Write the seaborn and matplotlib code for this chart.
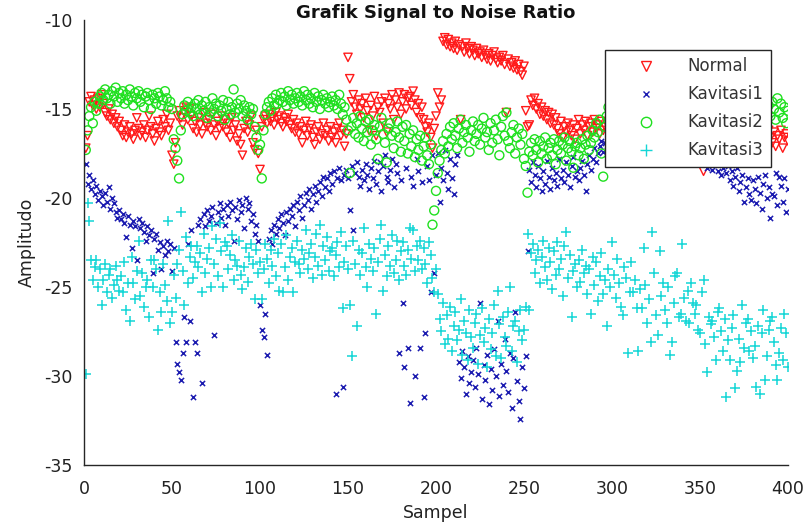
import numpy as np
import pandas as pd
import matplotlib
matplotlib.use("Agg")
import matplotlib.pyplot as plt
from matplotlib.lines import Line2D
import seaborn as sns

# Amplitude (dB) of each recorded sample, samples 1..400
normal = [
    -17.2, -16.5, -14.6, -14.3, -14.8, -14.5, -15.0, -14.4, -14.9, -14.2, -14.7, -15.2, -15.4, -15.0, -15.6, -15.3, -15.8, -15.5, -16.0, -15.7,
    -16.2, -16.5, -15.9, -16.6, -16.3, -16.0, -16.4, -16.7, -16.2, -15.5, -16.1, -16.5, -16.3, -15.9, -16.6, -16.2, -15.4, -16.0, -16.4, -16.8,
    -16.1, -15.7, -16.3, -16.5, -15.6, -16.0, -15.3, -16.2, -15.8, -17.6, -18.1, -16.9, -15.4, -15.1, -15.5, -15.9, -15.2, -14.9, -15.6, -15.0,
    -15.4, -16.1, -15.7, -16.3, -15.5, -15.9, -16.4, -15.2, -15.8, -16.0, -15.6, -16.2, -15.3, -15.9, -16.5, -15.7, -16.1, -15.4, -16.0, -15.6,
    -16.3, -15.8, -16.6, -15.5, -16.2, -15.9, -16.8, -16.4, -17.0, -17.6, -16.1, -15.7, -16.3, -15.9, -15.4, -16.9, -17.3, -16.2, -17.5, -18.4,
    -16.0, -15.6, -15.4, -15.8, -15.3, -15.7, -15.5, -15.9, -15.2, -15.6, -15.4, -15.8, -16.0, -15.5, -15.7, -15.3, -15.9, -16.1, -15.6, -16.3,
    -15.8, -16.4, -16.0, -16.9, -16.2, -15.7, -16.5, -16.1, -15.9, -16.6, -17.0, -16.3, -16.0, -16.7, -16.4, -15.8, -16.5, -16.2, -16.8, -16.0,
    -16.6, -16.3, -16.9, -16.1, -15.8, -16.5, -16.2, -17.1, -16.4, -12.1, -13.3, -14.6, -14.2, -14.9, -15.3, -14.5, -15.0, -14.7, -15.5, -14.4,
    -15.1, -16.2, -14.8, -15.4, -14.3, -16.5, -14.9, -15.2, -14.6, -15.8, -14.4, -16.3, -14.7, -15.0, -14.2, -15.6, -14.5, -14.9, -14.1, -15.3,
    -14.6, -14.2, -15.0, -14.4, -14.3, -14.8, -14.0, -14.5, -15.2, -14.7, -15.5, -14.9, -15.6, -16.0, -16.3, -15.8, -16.6, -17.2, -16.1, -15.4,
    -14.1, -14.9, -14.5, -11.2, -11.0, -11.4, -11.1, -11.5, -11.3, -11.6, -11.2, -11.7, -11.4, -15.6, -11.5, -11.8, -11.3, -11.6, -11.9, -11.5,
    -11.7, -12.0, -11.6, -11.9, -11.8, -12.1, -11.7, -12.0, -12.2, -11.9, -12.3, -12.0, -11.8, -12.2, -12.4, -12.1, -12.3, -12.0, -12.5, -15.2,
    -12.2, -12.6, -12.4, -12.7, -12.3, -12.8, -12.5, -12.9, -13.1, -12.6, -15.1, -16.0, -15.9, -14.5, -14.8, -14.4, -15.0, -14.7, -15.3, -14.9,
    -15.4, -15.1, -15.6, -15.2, -15.8, -15.3, -15.9, -15.5, -16.1, -16.4, -15.7, -16.6, -16.0, -16.3, -15.8, -16.2, -16.5, -15.9, -16.7, -16.1,
    -15.6, -16.4, -15.9, -16.2, -15.7, -16.5, -16.0, -15.8, -16.3, -15.6, -16.1, -15.9, -16.4, -15.7, -16.2, -16.0, -15.8, -16.3, -15.5, -16.1,
    -15.6, -15.2, -15.9, -15.4, -15.0, -15.7, -15.3, -16.0, -15.5, -14.9, -15.8, -16.2, -15.4, -15.1, -15.6, -16.3, -15.2, -15.5, -15.9, -15.3,
    -15.7, -15.1, -15.8, -15.4, -16.1, -15.6, -15.2, -15.9, -15.5, -16.0, -15.3, -15.8, -16.2, -15.4, -15.7, -15.0, -15.6, -16.1, -15.5, -15.9,
    -17.5, -15.8, -16.2, -15.6, -15.3, -16.0, -15.7, -16.3, -15.4, -16.1, -15.9, -18.5, -15.6, -16.2, -15.8, -16.4, -15.5, -16.0, -16.3, -15.7,
    -16.1, -15.8, -16.4, -15.9, -16.2, -16.0, -16.5, -15.7, -16.3, -16.1, -16.4, -16.0, -16.6, -16.9, -16.3, -16.7, -16.2, -16.8, -16.5, -16.4,
    -16.9, -16.3, -16.7, -16.1, -16.6, -17.0, -16.4, -16.8, -16.2, -16.6, -16.9, -16.3, -17.1, -16.5, -16.7, -16.2, -17.2, -16.6, -16.4, -16.8,
]

kavitasi1 = [
    -18.1, -19.2, -18.7, -19.5, -19.0, -19.8, -19.3, -20.1, -19.6, -19.9, -20.4, -19.7, -20.2, -19.4, -20.6, -20.0, -20.3, -20.8, -21.1, -20.7,
    -21.2, -20.9, -21.4, -22.2, -21.0, -21.5, -22.8, -21.3, -21.6, -23.5, -21.2, -21.7, -21.4, -21.9, -22.4, -21.6, -22.1, -21.8, -24.2, -22.3,
    -22.0, -22.9, -22.5, -24.0, -22.7, -23.2, -22.4, -23.0, -22.6, -24.1, -22.8, -28.1, -29.3, -29.8, -30.2, -28.7, -26.7, -28.1, -22.6, -26.9,
    -21.8, -31.2, -28.1, -28.7, -21.5, -21.2, -30.4, -20.9, -21.6, -20.7, -21.3, -21.0, -20.5, -27.7, -21.4, -20.8, -20.3, -21.1, -20.6, -21.5,
    -20.4, -21.0, -20.2, -20.7, -22.4, -20.5, -21.2, -20.1, -20.8, -20.4, -21.7, -20.0, -20.6, -20.3, -21.3, -20.9, -22.0, -21.5, -22.4, -26.0,
    -27.4, -27.8, -26.5, -28.8, -22.3, -21.8, -22.6, -21.5, -22.0, -21.2, -21.7, -20.9, -21.4, -22.1, -20.8, -21.3, -20.6, -21.0, -20.4, -21.6,
    -20.2, -20.7, -19.9, -21.1, -20.4, -19.7, -20.1, -19.5, -20.6, -19.8, -19.3, -20.2, -19.6, -19.1, -19.9, -18.8, -19.4, -18.9, -19.6, -18.6,
    -19.2, -18.5, -31.0, -18.9, -18.3, -19.0, -30.6, -18.7, -18.4, -18.9, -20.7, -18.2, -21.8, -18.6, -18.0, -18.8, -19.3, -18.4, -19.0, -18.1,
    -18.7, -19.5, -18.3, -18.9, -17.9, -19.2, -18.5, -18.0, -19.6, -18.2, -17.6, -18.8, -19.1, -18.4, -17.8, -19.4, -18.1, -18.6, -28.7, -19.0,
    -25.9, -29.5, -18.3, -28.4, -31.5, -18.8, -19.3, -30.0, -17.8, -18.5, -28.4, -19.1, -31.2, -27.6, -18.2, -19.0, -25.3, -17.6, -24.2, -18.7,
    -17.5, -20.2, -18.3, -19.0, -17.3, -18.6, -19.5, -17.8, -18.9, -19.8, -18.1, -17.6, -29.2, -30.1, -28.6, -29.5, -31.0, -28.9, -30.4, -29.8,
    -29.1, -30.6, -28.4, -29.9, -25.9, -31.3, -29.4, -30.2, -28.8, -31.6, -29.6, -30.8, -28.5, -30.0, -26.9, -31.1, -29.3, -30.5, -27.9, -29.7,
    -30.9, -28.7, -31.8, -29.0, -26.4, -30.3, -31.4, -32.4, -29.5, -30.7, -28.9, -23.0, -18.4, -19.1, -18.0, -18.7, -19.4, -18.2, -18.9, -19.6,
    -18.5, -19.2, -17.9, -18.8, -19.5, -18.3, -19.0, -18.6, -19.3, -17.8, -18.9, -18.4, -19.1, -18.0, -18.7, -19.4, -18.2, -17.7, -18.8, -18.5,
    -19.0, -18.3, -17.9, -18.7, -19.6, -18.1, -17.6, -18.4, -17.8, -17.2, -18.0, -17.5, -17.1, -16.8, -17.4, -16.9, -17.3, -16.7, -17.0, -16.6,
    -17.2, -16.8, -17.4, -16.9, -17.1, -16.6, -17.5, -17.0, -16.8, -17.3, -16.7, -17.6, -16.9, -17.2, -16.5, -17.0, -17.4, -16.8, -17.1, -16.6,
    -17.3, -16.9, -17.0, -17.5, -16.7, -17.2, -16.8, -17.4, -16.6, -17.1, -16.9, -17.3, -16.5, -17.0, -17.6, -16.8, -17.2, -16.7, -17.4, -16.9,
    -17.1, -16.8, -17.3, -16.6, -17.0, -16.9, -17.5, -16.7, -17.2, -17.8, -17.4, -18.0, -17.6, -18.3, -17.9, -17.5, -18.4, -18.1, -17.7, -18.5,
    -18.0, -18.7, -18.3, -17.9, -18.6, -18.2, -19.0, -18.5, -19.3, -18.8, -18.3, -19.6, -19.1, -18.7, -20.2, -19.4, -18.9, -19.8, -20.1, -19.0,
    -19.5, -20.3, -18.8, -19.7, -20.6, -19.2, -18.7, -20.0, -19.4, -21.1, -19.8, -19.9, -18.6, -20.4, -18.8, -19.3, -20.2, -18.9, -20.8, -19.5,
]

kavitasi2 = [
    -17.3, -16.2, -15.4, -14.9, -15.8, -14.6, -15.1, -14.7, -14.3, -14.1, -14.5, -13.9, -14.4, -14.2, -14.7, -14.0, -14.3, -13.8, -14.6, -14.1,
    -14.4, -14.0, -14.7, -14.2, -14.5, -13.9, -14.3, -14.8, -14.1, -14.4, -14.0, -14.6, -14.2, -14.9, -14.3, -14.1, -14.5, -15.0, -14.2, -14.4,
    -14.7, -14.1, -14.3, -14.8, -14.5, -14.0, -14.4, -14.9, -14.6, -15.0, -16.7, -17.2, -17.9, -18.9, -16.2, -15.3, -14.8, -15.1, -14.6, -15.2,
    -14.9, -15.4, -14.7, -15.0, -14.5, -15.3, -14.8, -15.1, -14.6, -15.5, -14.9, -15.2, -14.4, -15.0, -14.7, -15.4, -14.8, -15.1, -14.5, -15.6,
    -15.0, -14.6, -15.3, -14.9, -13.9, -15.2, -14.7, -15.0, -14.5, -15.4, -14.8, -15.1, -15.6, -14.9, -15.3, -15.0, -16.0, -16.6, -17.3, -17.0,
    -18.9, -16.2, -15.3, -14.9, -14.6, -15.1, -14.4, -14.8, -14.2, -14.7, -14.5, -14.1, -14.6, -14.3, -14.8, -14.0, -14.5, -14.2, -14.7, -14.4,
    -14.1, -14.6, -14.3, -14.8, -14.0, -14.5, -14.2, -14.7, -14.4, -14.9, -14.1, -14.6, -14.3, -15.0, -14.5, -14.2, -14.7, -14.4, -14.9, -14.6,
    -14.3, -14.8, -14.5, -15.0, -14.2, -14.7, -15.3, -14.9, -15.6, -16.2, -18.6, -16.0, -15.5, -16.4, -15.8, -16.6, -15.4, -16.1, -16.8, -15.7,
    -16.3, -15.6, -17.0, -16.2, -15.9, -16.7, -17.8, -16.0, -15.5, -16.4, -16.9, -18.0, -16.1, -15.8, -16.5, -17.2, -16.3, -15.7, -16.6, -17.4,
    -16.0, -16.8, -15.9, -17.5, -16.4, -17.1, -16.2, -17.7, -16.7, -17.3, -16.5, -17.9, -17.1, -16.6, -17.6, -18.1, -17.0, -21.5, -20.7, -19.6,
    -18.6, -17.9, -17.3, -16.8, -17.5, -16.4, -17.1, -16.0, -16.7, -15.8, -16.5, -17.2, -16.1, -15.6, -16.9, -16.3, -15.9, -16.6, -17.4, -16.2,
    -15.7, -16.8, -16.4, -15.9, -17.0, -16.1, -15.5, -16.6, -16.3, -17.3, -15.8, -16.9, -16.2, -15.6, -16.7, -17.6, -16.0, -15.4, -16.5, -15.2,
    -16.8, -17.2, -16.3, -15.9, -17.5, -16.6, -16.1, -17.0, -16.4, -17.8, -18.2, -19.7, -17.4, -16.9, -17.6, -16.7, -17.3, -18.0, -16.8, -17.5,
    -17.1, -16.6, -17.8, -17.2, -16.9, -17.6, -16.7, -18.1, -17.3, -16.8, -17.5, -17.0, -16.6, -17.9, -17.2, -16.8, -17.4, -18.3, -17.1, -16.9,
    -17.6, -17.2, -16.7, -17.8, -17.0, -16.5, -17.3, -16.9, -16.2, -16.6, -15.8, -16.3, -15.6, -17.5, -18.8, -16.0, -15.4, -14.9, -15.2, -14.6,
    -14.8, -15.1, -14.5, -14.9, -15.3, -14.6, -15.0, -14.4, -14.8, -15.2, -14.7, -15.1, -14.5, -14.9, -15.4, -14.6, -15.0, -14.3, -14.8, -15.2,
    -14.7, -15.0, -14.4, -14.9, -15.3, -14.6, -15.1, -14.5, -14.8, -15.2, -14.6, -15.0, -14.3, -14.9, -15.4, -14.7, -15.1, -14.5, -14.8, -15.2,
    -14.6, -15.0, -14.4, -14.9, -15.3, -14.7, -15.1, -14.5, -14.8, -15.2, -14.6, -15.0, -14.4, -14.9, -15.3, -14.7, -15.1, -14.5, -14.8, -15.2,
    -14.6, -15.0, -14.3, -14.9, -15.2, -14.7, -15.1, -14.4, -14.8, -15.3, -14.6, -15.0, -14.5, -14.9, -15.2, -14.7, -15.1, -14.4, -14.8, -15.3,
    -14.6, -15.0, -14.5, -14.9, -15.3, -14.7, -15.1, -14.3, -14.8, -15.4, -14.6, -15.0, -15.6, -14.4, -15.2, -14.7, -15.5, -14.9, -15.8, -15.1,
]

kavitasi3 = [
    -29.9, -20.3, -21.3, -23.5, -24.6, -23.9, -23.5, -25.0, -24.0, -26.0, -24.6, -23.7, -25.3, -24.3, -24.0, -25.6, -24.9, -23.8, -24.6, -25.2,
    -24.4, -25.3, -23.6, -26.3, -24.8, -26.9, -23.3, -24.8, -25.7, -24.1, -22.4, -25.5, -24.2, -26.1, -25.0, -24.6, -26.7, -23.5, -25.0, -23.5,
    -24.0, -27.4, -25.3, -26.4, -23.7, -24.9, -25.8, -21.3, -27.0, -26.4, -24.3, -25.6, -23.7, -22.9, -20.8, -24.1, -26.0, -22.2, -24.8, -23.3,
    -22.7, -24.5, -23.6, -22.7, -23.9, -23.1, -25.3, -22.0, -24.2, -23.4, -22.8, -25.0, -21.6, -23.7, -22.3, -24.4, -21.4, -23.0, -25.0, -22.5,
    -22.7, -24.0, -23.2, -22.1, -24.6, -23.5, -23.8, -22.4, -24.3, -25.1, -23.9, -22.8, -24.7, -23.3, -22.6, -23.7, -25.7, -22.9, -24.2, -23.6,
    -25.7, -24.0, -22.6, -23.4, -24.8, -22.9, -23.8, -22.3, -24.4, -23.1, -25.2, -22.6, -25.3, -23.9, -22.1, -24.6, -23.3, -22.8, -25.3, -23.6,
    -22.4, -23.7, -24.2, -22.9, -23.4, -21.8, -24.0, -23.1, -22.6, -24.5, -23.3, -22.0, -23.8, -21.5, -24.3, -22.7, -23.5, -22.2, -24.1, -23.0,
    -22.8, -24.4, -23.2, -22.5, -23.9, -21.9, -26.2, -23.6, -22.7, -24.0, -26.0, -28.9, -22.4, -23.7, -27.2, -22.9, -24.3, -23.1, -21.7, -23.9,
    -25.0, -22.6, -23.4, -24.1, -22.8, -26.5, -23.6, -22.3, -21.5, -25.2, -23.2, -24.4, -22.7, -23.8, -22.1, -24.2, -23.5, -22.4, -24.6, -23.0,
    -22.5, -23.8, -24.3, -22.9, -21.7, -23.4, -21.8, -24.1, -22.7, -23.5, -22.4, -24.0, -22.8, -23.7, -24.8, -22.5, -23.2, -24.5, -25.3, -24.0,
    -25.4, -26.8, -27.5, -25.9, -28.2, -26.6, -27.9, -26.1, -28.6, -27.2, -26.4, -28.0, -27.4, -25.7, -28.8, -26.9, -27.6, -29.1, -26.3, -27.8,
    -28.4, -27.0, -26.5, -29.3, -27.7, -26.2, -28.1, -27.3, -29.5, -26.8, -28.5, -27.6, -26.0, -28.9, -25.2, -27.1, -29.0, -26.7, -27.8, -28.3,
    -26.4, -25.0, -28.6, -27.2, -26.9, -29.2, -27.5, -26.3, -28.0, -27.4, -26.1, -22.0, -26.3, -23.1, -22.6, -24.2, -23.5, -22.9, -24.8, -23.3,
    -22.4, -23.9, -24.6, -22.8, -23.6, -25.1, -23.0, -24.3, -22.5, -24.0, -23.4, -25.5, -22.7, -21.9, -24.5, -23.2, -26.7, -24.1, -23.7, -25.0,
    -23.5, -24.7, -22.9, -24.2, -23.8, -25.4, -24.0, -26.5, -23.3, -24.9, -23.6, -25.8, -24.4, -23.1, -25.4, -24.6, -27.2, -24.0, -25.0, -22.5,
    -24.3, -25.6, -23.4, -24.8, -26.1, -26.6, -23.9, -24.5, -28.7, -25.3, -23.6, -25.3, -24.6, -26.2, -28.6, -25.1, -26.2, -22.8, -24.9, -27.0,
    -25.7, -28.1, -21.9, -24.2, -26.6, -27.7, -23.0, -25.5, -24.8, -26.3, -27.0, -25.0, -28.8, -28.1, -25.9, -24.4, -24.2, -26.7, -26.5, -22.6,
    -25.6, -26.9, -25.2, -27.0, -24.8, -25.9, -26.5, -26.0, -27.4, -27.6, -25.3, -24.6, -28.2, -29.8, -26.7, -27.1, -26.9, -27.8, -29.1, -26.4,
    -26.2, -27.5, -28.6, -26.8, -31.2, -28.0, -29.1, -27.3, -26.6, -30.7, -29.7, -27.9, -29.2, -26.0, -28.4, -27.0, -26.8, -28.6, -27.5, -29.0,
    -28.3, -30.6, -27.2, -31.0, -27.6, -26.3, -30.2, -28.9, -27.4, -26.9, -26.7, -28.1, -29.4, -30.2, -28.7, -27.3, -29.1, -26.5, -27.6, -29.5,
]

series_names = ["Normal", "Kavitasi1", "Kavitasi2", "Kavitasi3"]
series_values = [normal, kavitasi1, kavitasi2, kavitasi3]
x_ticks = [0, 50, 100, 150, 200, 250, 300, 350, 400]
y_ticks = [-35, -30, -25, -20, -15, -10]

frames = []
for name, vals in zip(series_names, series_values):
    frames.append(pd.DataFrame({"Sampel": np.arange(1, len(vals) + 1),
                                "Amplitudo": vals, "Seri": name}))
df = pd.concat(frames, ignore_index=True)

sns.set_style("white")
plt.rcParams["font.family"] = ["DejaVu Sans"]
plt.rcParams["axes.unicode_minus"] = False

# marker style per series: (marker, size, colour, hollow)
styles = {
    "Normal":    ("v", 36, "#ff1a1a", True),
    "Kavitasi1": ("x", 14, "#1c1cb0", False),
    "Kavitasi2": ("o", 42, "#1fe01f", True),
    "Kavitasi3": ("+", 48, "#14d6d6", False),
}

fig = plt.figure(figsize=(8.07, 5.25), dpi=100)
ax = fig.add_axes([84 / 807, 60 / 525, 704 / 807, 445 / 525])

for name in series_names:
    sub = df[df["Seri"] == name]
    mk, sz, col, hollow = styles[name]
    if hollow:
        sns.scatterplot(data=sub, x="Sampel", y="Amplitudo", ax=ax, marker=mk, s=sz,
                        facecolor="none", edgecolor=col, linewidth=1.0, legend=False)
    else:
        sns.scatterplot(data=sub, x="Sampel", y="Amplitudo", ax=ax, marker=mk, s=sz,
                        color=col, linewidth=1.1, legend=False)

ax.set_xlim(0, 400)
ax.set_ylim(-35, -10)
ax.set_xticks(x_ticks)
ax.set_yticks(y_ticks)
ax.tick_params(direction="in", length=4, width=0.8, labelsize=12.5,
               colors="#222222", pad=8)
ax.tick_params(axis="x", pad=11)
for side in ("top", "right"):
    ax.spines[side].set_visible(False)
for side in ("left", "bottom"):
    ax.spines[side].set_color("#262626")
    ax.spines[side].set_linewidth(1.0)

ax.set_xlabel("Sampel", fontsize=12.5, color="#222222", labelpad=4)
ax.set_ylabel("Amplitudo", fontsize=12.5, color="#222222", labelpad=6)
ax.set_title("Grafik Signal to Noise Ratio", fontsize=13, fontweight="bold",
             color="#111111", pad=1.5)

handles = []
for name in series_names:
    mk, sz, col, hollow = styles[name]
    handles.append(Line2D([], [], linestyle="none", marker=mk,
                          markersize=np.sqrt(sz) * 1.15,
                          markerfacecolor="none" if hollow else col,
                          markeredgecolor=col, markeredgewidth=1.0))
leg = ax.legend(handles, series_names, loc="upper left",
                bbox_to_anchor=(0.740, 0.9326), borderaxespad=0,
                fontsize=12, frameon=True, fancybox=False, framealpha=1,
                edgecolor="#262626", handlelength=4.0, handletextpad=0.5,
                labelspacing=0.6, borderpad=0.45)
leg.get_frame().set_linewidth(1.0)
for t in leg.get_texts():
    t.set_color("#333333")

fig.savefig("out.png", dpi=100)
